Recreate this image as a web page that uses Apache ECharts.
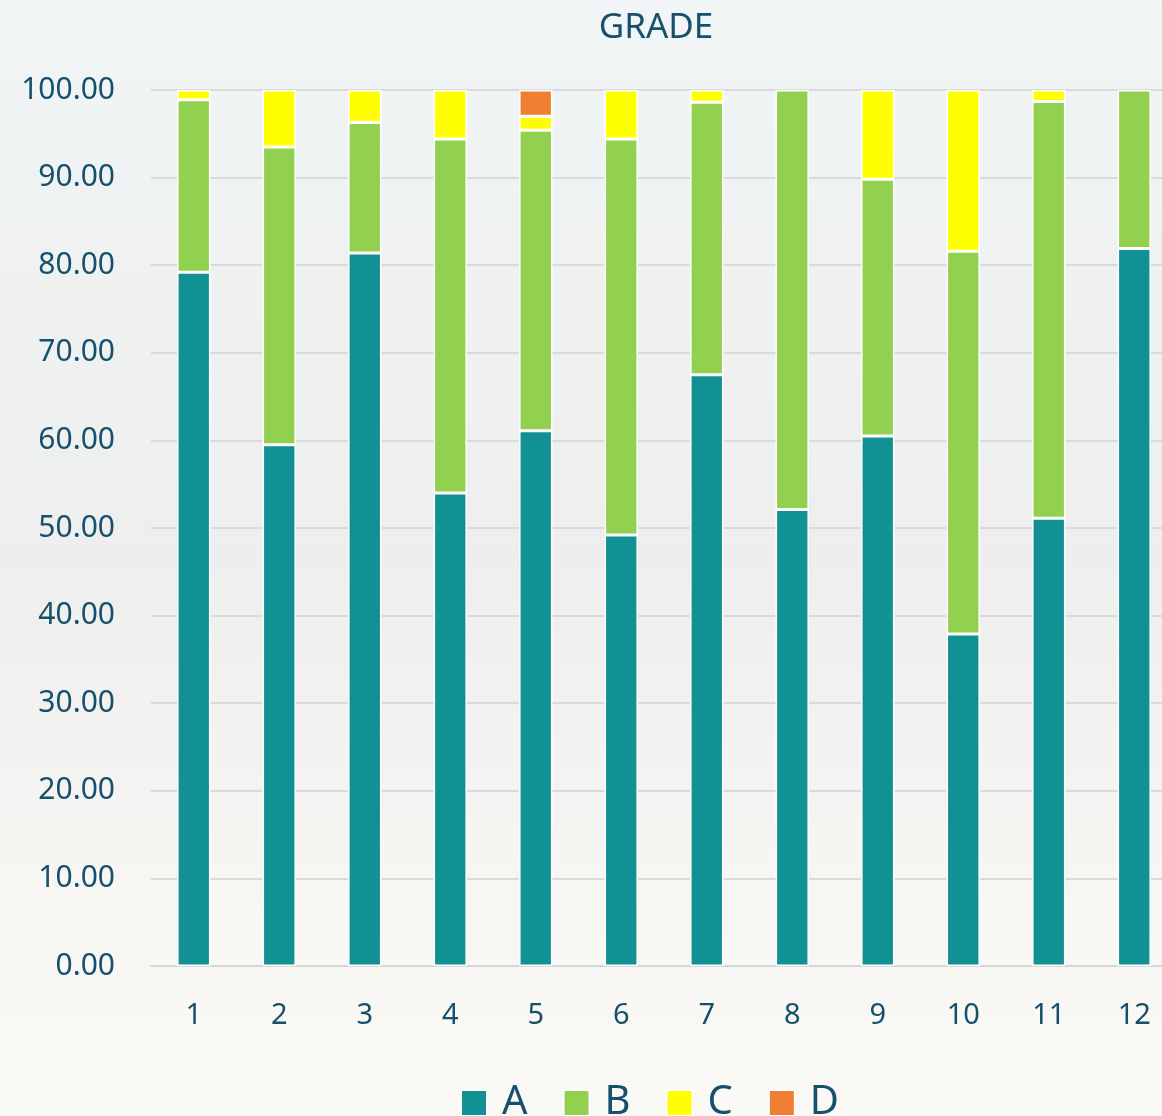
<!DOCTYPE html>
<html>
<head>
<meta charset="utf-8">
<script src="https://cdn.jsdelivr.net/npm/echarts@6/dist/echarts.min.js"></script>
<style>
  html, body { margin: 0; padding: 0; overflow: hidden; width: 1162px; height: 1116px; }
  #grade-chart { width: 1312px; height: 1116px; }
</style>
</head>
<body>
<div id="grade-chart"></div>
<script>
// grade distribution per class (percent)
var categories = ['1', '2', '3', '4', '5', '6', '7', '8', '9', '10', '11', '12'];
var gradeA = [79.2, 59.5, 81.4, 54.0, 61.1, 49.2, 67.5, 52.1, 60.5, 37.9, 51.1, 81.9];
var gradeB = [19.7, 34.0, 14.9, 40.4, 34.3, 45.2, 31.1, 47.9, 29.3, 43.7, 47.6, 18.1];
var gradeC = [1.1, 6.5, 3.7, 5.6, 1.6, 5.6, 1.4, null, 10.2, 18.4, 1.3, null];
var gradeD = [null, null, null, null, 3.0, null, null, null, null, null, null, null];
var yTicks = [0, 10, 20, 30, 40, 50, 60, 70, 80, 90, 100];

var textColor = '#17506d';
var fontName = 'Noto Sans';

var chart = echarts.init(document.getElementById('grade-chart'));

function barSeries(name, data, color) {
    return {
        name: name,
        type: 'bar',
        stack: 'grade',
        barWidth: '39%',
        data: data,
        itemStyle: { color: color, borderColor: '#ffffff', borderWidth: 1.5 }
    };
}

var option = {
    backgroundColor: {
        type: 'linear', x: 0, y: 0, x2: 0, y2: 1,
        colorStops: [
            { offset: 0, color: '#f1f5f5' },
            { offset: 0.5, color: '#eeeeee' },
            { offset: 0.8, color: '#f8f6f3' },
            { offset: 1, color: '#fbf9f6' }
        ]
    },
    textStyle: { fontFamily: fontName },
    title: {
        text: 'GRADE',
        left: 'center',
        top: 6,
        textStyle: { color: textColor, fontSize: 35, fontWeight: 'normal', fontFamily: fontName }
    },
    legend: {
        bottom: -12,
        left: 455,
        itemWidth: 26,
        itemHeight: 26,
        itemGap: 35,
        icon: 'rect',
        textStyle: { color: textColor, fontSize: 40, fontFamily: fontName, padding: [0, 0, 0, 10] }
    },
    grid: {
        left: 151,
        right: 135,
        top: 90,
        bottom: 150
    },
    xAxis: {
        type: 'category',
        data: categories,
        axisLine: { lineStyle: { color: '#d6d6d6', width: 2 } },
        axisTick: { show: false },
        axisLabel: { color: textColor, fontSize: 29, margin: 35, fontFamily: fontName }
    },
    yAxis: {
        type: 'value',
        min: yTicks[0],
        max: yTicks[yTicks.length - 1],
        interval: 10,
        axisLine: { show: false },
        axisTick: { show: false },
        splitLine: { lineStyle: { color: '#dadada', width: 2 } },
        axisLabel: {
            color: textColor,
            fontSize: 30,
            margin: 36,
            fontFamily: fontName,
            formatter: function (v) { return v.toFixed(2); }
        }
    },
    series: [
        barSeries('A', gradeA, '#119193'),
        barSeries('B', gradeB, '#92d150'),
        barSeries('C', gradeC, '#ffff00'),
        barSeries('D', gradeD, '#ee7f33')
    ]
};

chart.setOption(option);
</script>
</body>
</html>
